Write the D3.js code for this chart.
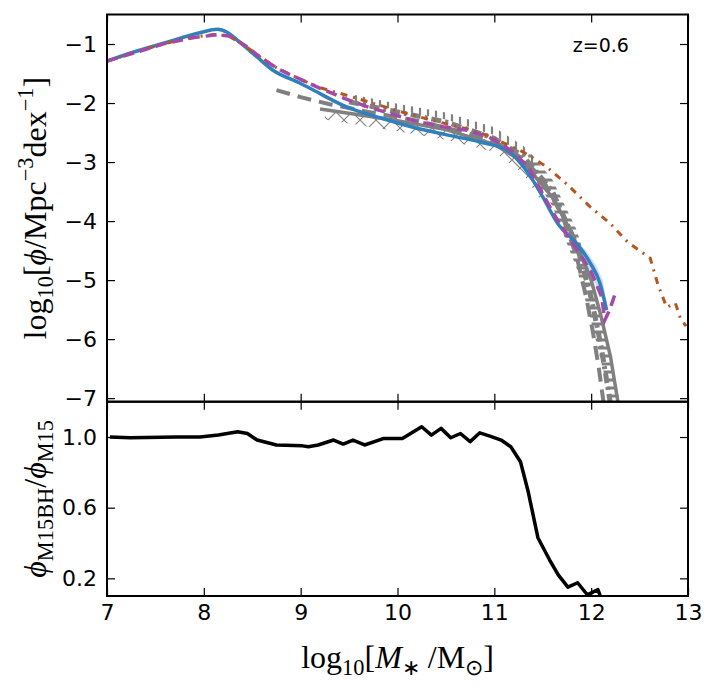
<!DOCTYPE html>
<html><head><meta charset="utf-8">
<script src="https://cdn.jsdelivr.net/npm/d3@7"></script>
<style>body{margin:0;background:#fff}</style>
</head><body>
<svg id="c" width="720" height="688"></svg>
<script>
// ---------- data ----------
const xTicks = [7, 8, 9, 10, 11, 12, 13];
const yMainTicks = [-7, -6, -5, -4, -3, -2, -1];
const yRatioTicks = [0.2, 0.6, 1.0];
const zLabel = "z=0.6";

// M15 (blue solid)
const blueX = [7.0,7.27,7.62,7.96,8.14,8.24,8.37,8.55,8.71,8.99,9.13,9.48,9.82,10.16,10.51,10.85,11.13,11.30,11.44,11.50,11.65,11.88,11.99,12.09,12.16];
const blueY = [-1.29,-1.14,-0.97,-0.81,-0.75,-0.80,-0.97,-1.22,-1.44,-1.66,-1.78,-2.07,-2.25,-2.41,-2.54,-2.66,-2.80,-3.08,-3.42,-3.59,-4.03,-4.44,-4.71,-5.05,-5.51];
const blueBandX = [11.85,11.95,12.05,12.12,12.16];
const blueBandLo = [-4.45,-4.75,-5.1,-5.35,-5.55];
const blueBandHi = [-4.35,-4.5,-4.75,-5.0,-5.4];

// M15BH (purple dashed)
const purpX = [7.0,7.3,7.6,7.9,8.15,8.28,8.45,8.6,8.8,9.0,9.2,9.45,9.7,9.95,10.2,10.47,10.72,10.95,11.17,11.35,11.47,11.6,11.73,11.87,12.0,12.11,12.14,12.19,12.25];
const purpY = [-1.29,-1.14,-0.99,-0.89,-0.84,-0.87,-1.05,-1.25,-1.45,-1.6,-1.75,-1.92,-2.07,-2.19,-2.31,-2.4,-2.46,-2.58,-2.8,-3.08,-3.45,-3.84,-4.19,-4.52,-4.86,-5.29,-5.68,-5.51,-5.22];

// brown dash-dot
const brownX = [7.0,7.3,7.6,7.9,8.1,8.25,8.4,8.55,8.75,9.0,9.2,9.5,9.8,10.1,10.4,10.7,10.9,11.1,11.3,11.54,11.76,11.99,12.19,12.38,12.61,12.69,12.78,12.87,12.92,12.98];
const brownY = [-1.29,-1.13,-0.99,-0.88,-0.84,-0.86,-1.0,-1.18,-1.4,-1.6,-1.74,-1.88,-2.03,-2.18,-2.31,-2.43,-2.53,-2.68,-2.83,-3.08,-3.39,-3.76,-4.03,-4.36,-4.63,-5.08,-5.46,-5.39,-5.64,-5.78];

// observations (gray)
const obsDashX = [8.75,9.0,9.3,9.7,10.2,10.7,11.0,11.3,11.5,11.7,11.85,11.95,12.02,12.08,12.13];
const obsDashY = [-1.78,-1.9,-2.02,-2.15,-2.3,-2.5,-2.65,-2.95,-3.3,-3.9,-4.6,-5.3,-5.9,-6.5,-7.1];
const obsSolidX = [9.2,9.6,10.0,10.5,11.0,11.3,11.6,11.8,12.0,12.1,12.2,12.28];
const obsSolidY = [-2.1,-2.2,-2.3,-2.45,-2.7,-3.0,-3.6,-4.2,-5.0,-5.6,-6.3,-7.1];
const obsDotDashX = [9.5,10.0,10.5,11.0,11.3,11.6,11.85,12.0,12.1,12.2];
const obsDotDashY = [-1.98,-2.15,-2.32,-2.6,-2.9,-3.5,-4.4,-5.3,-6.1,-7.1];
// vertical-tick band (shallow part)
const combAX = [9.55,10.0,10.5,11.0,11.3,11.45];
const combAHi = [-1.86,-2.01,-2.16,-2.41,-2.73,-2.98];
const combALo = [-1.98,-2.12,-2.28,-2.54,-2.88,-3.15];
// horizontal-bar band (steep part)
const combBX = [11.35,11.6,11.85,12.0,12.15,12.3];
const combBHi = [-2.8,-3.3,-4.15,-4.95,-5.85,-7.1];
const combBLo = [-3.1,-3.75,-4.8,-5.7,-6.7,-8.0];
const crossX = [9.25,9.7,10.0,10.5,11.0,11.3,11.5];
const crossHi = [-2.1,-2.22,-2.3,-2.45,-2.65,-2.9,-3.25];
const crossLo = [-2.28,-2.4,-2.48,-2.62,-2.83,-3.2,-3.7];

// ratio panel
const ratioX = [7.03,7.24,7.72,7.96,8.15,8.35,8.45,8.55,8.75,9.02,9.08,9.18,9.34,9.44,9.54,9.66,9.86,10.05,10.25,10.35,10.45,10.55,10.65,10.75,10.85,10.97,11.07,11.17,11.27,11.35,11.45,11.57,11.66,11.76,11.86,11.96,12.07,12.1];
const ratioY = [1.0,0.996,1.0,1.0,1.011,1.03,1.02,0.983,0.955,0.95,0.945,0.955,0.983,0.96,0.983,0.955,0.992,0.992,1.058,1.011,1.049,0.996,1.02,0.974,1.024,1.002,0.983,0.945,0.86,0.69,0.43,0.305,0.22,0.15,0.175,0.107,0.136,0.09];

// ---------- layout ----------
const L = 107, R = 688, T1 = 14.5, B1 = 401.7, B2 = 596;
const svg = d3.select("#c");
const x = d3.scaleLinear().domain([7, 13]).range([L, R]);
const y1 = d3.scaleLinear().domain([-7.06, -0.5]).range([B1, T1]);
const y2 = d3.scaleLinear().domain([0.1, 1.2]).range([B2, B1]);

const defs = svg.append("defs");
defs.append("clipPath").attr("id", "clip1").append("rect").attr("x", L).attr("y", T1).attr("width", R - L).attr("height", B1 - T1);
defs.append("clipPath").attr("id", "clip2").append("rect").attr("x", L).attr("y", B1).attr("width", R - L).attr("height", B2 - B1);
const px = defs.append("pattern").attr("id", "hx").attr("patternUnits", "userSpaceOnUse").attr("width", 16).attr("height", 16);
px.append("path").attr("d", "M0,0L16,16M16,0L0,16").attr("stroke", "#808080").attr("stroke-width", 1.1);
const pv = defs.append("pattern").attr("id", "hv").attr("patternUnits", "userSpaceOnUse").attr("width", 8).attr("height", 8);
pv.append("path").attr("d", "M4,0V8").attr("stroke", "#808080").attr("stroke-width", 2.2);
const ph = defs.append("pattern").attr("id", "hh").attr("patternUnits", "userSpaceOnUse").attr("width", 8).attr("height", 8);
ph.append("path").attr("d", "M0,4H8").attr("stroke", "#808080").attr("stroke-width", 3);

const zip = (a, b) => a.map((v, i) => [v, b[i]]);
const line1 = d3.line().x(d => x(d[0])).y(d => y1(d[1])).curve(d3.curveMonotoneX);
const lineLin = d3.line().x(d => x(d[0])).y(d => y1(d[1]));
const area1 = d3.area().x(d => x(d[0])).y0(d => y1(d[1])).y1(d => y1(d[2]));

const g1 = svg.append("g").attr("clip-path", "url(#clip1)");
// hatched bands
g1.append("path").datum(crossX.map((v, i) => [v, crossLo[i], crossHi[i]])).attr("d", area1).attr("fill", "url(#hx)");
g1.append("path").datum(combAX.map((v, i) => [v, combALo[i], combAHi[i]])).attr("d", area1).attr("fill", "url(#hv)");
g1.append("path").datum(combBX.map((v, i) => [v, combBLo[i], combBHi[i]])).attr("d", area1).attr("fill", "url(#hh)");
// gray lines
g1.append("path").datum(zip(obsSolidX, obsSolidY)).attr("d", lineLin).attr("fill", "none").attr("stroke", "#808080").attr("stroke-width", 3.5);
g1.append("path").datum(zip(obsDotDashX, obsDotDashY)).attr("d", lineLin).attr("fill", "none").attr("stroke", "#808080").attr("stroke-width", 5).attr("stroke-dasharray", "10,4,3,4");
g1.append("path").datum(zip(obsDashX, obsDashY)).attr("d", lineLin).attr("fill", "none").attr("stroke", "#808080").attr("stroke-width", 4).attr("stroke-dasharray", "14,8");
// blue band + line
g1.append("path").datum(blueBandX.map((v, i) => [v, blueBandLo[i], blueBandHi[i]])).attr("d", area1).attr("fill", "#2c7fb8").attr("opacity", 0.25);
g1.append("path").datum(zip(blueX, blueY)).attr("d", line1).attr("fill", "none").attr("stroke", "#2f80bd").attr("stroke-width", 3.5).attr("stroke-linejoin", "round");
g1.append("path").datum(zip(brownX, brownY)).attr("d", lineLin).attr("fill", "none").attr("stroke", "#b5561f").attr("stroke-width", 3).attr("stroke-dasharray", "7,6,2,6");
g1.append("path").datum(zip(purpX, purpY)).attr("d", lineLin).attr("fill", "none").attr("stroke", "#a24aa6").attr("stroke-width", 3.5).attr("stroke-dasharray", "11,6");

// ratio line
const g2 = svg.append("g").attr("clip-path", "url(#clip2)");
g2.append("path").datum(zip(ratioX, ratioY)).attr("d", d3.line().x(d => x(d[0])).y(d => y2(d[1])))
  .attr("fill", "none").attr("stroke", "#000").attr("stroke-width", 3.5).attr("stroke-linejoin", "round");

// ---------- axes ----------
const tickFont = "DejaVu Sans", tickSize = 22;
function styleAxis(g) {
  g.selectAll(".domain").remove();
  g.selectAll("line").attr("stroke", "#000").attr("stroke-width", 1.2);
  g.selectAll("text").attr("font-family", tickFont).attr("font-size", tickSize).attr("fill", "#000");
}
const fmtMinus = v => (v < 0 ? "\u2212" + Math.abs(v) : String(v));
svg.append("g").attr("transform", `translate(${L},0)`).call(d3.axisLeft(y1).tickValues(yMainTicks).tickSize(-8).tickPadding(10).tickFormat(fmtMinus)).call(styleAxis);
svg.append("g").attr("transform", `translate(${R},0)`).call(d3.axisRight(y1).tickValues(yMainTicks).tickSize(-8).tickFormat("")).call(styleAxis);
svg.append("g").attr("transform", `translate(0,${T1})`).call(d3.axisTop(x).tickValues(xTicks).tickSize(-8).tickFormat("")).call(styleAxis);
svg.append("g").attr("transform", `translate(0,${B1})`).call(d3.axisBottom(x).tickValues(xTicks).tickSize(-8).tickFormat("")).call(styleAxis);
svg.append("g").attr("transform", `translate(0,${B1})`).call(d3.axisTop(x).tickValues(xTicks).tickSize(-8).tickFormat("")).call(styleAxis);
svg.append("g").attr("transform", `translate(${L},0)`).call(d3.axisLeft(y2).tickValues(yRatioTicks).tickSize(-8).tickPadding(10).tickFormat(d3.format(".1f"))).call(styleAxis);
svg.append("g").attr("transform", `translate(${R},0)`).call(d3.axisRight(y2).tickValues(yRatioTicks).tickSize(-8).tickFormat("")).call(styleAxis);
svg.append("g").attr("transform", `translate(0,${B2})`).call(d3.axisBottom(x).tickValues(xTicks).tickSize(-8).tickPadding(8).tickFormat(d3.format("d"))).call(styleAxis);

// frames
svg.append("rect").attr("x", L).attr("y", T1).attr("width", R - L).attr("height", B1 - T1).attr("fill", "none").attr("stroke", "#000").attr("stroke-width", 2);
svg.append("rect").attr("x", L).attr("y", B1).attr("width", R - L).attr("height", B2 - B1).attr("fill", "none").attr("stroke", "#000").attr("stroke-width", 2);

// z label
svg.append("text").attr("x", x(12.1)).attr("y", y1(-1.05)).attr("text-anchor", "middle").attr("dominant-baseline", "middle")
  .attr("font-family", "DejaVu Sans").attr("font-size", 19).text(zLabel);

// axis labels (serif math)
const serif = "Liberation Serif", LS = 32;
function mathText(sel, parts) {
  parts.forEach(p => {
    const t = sel.append("tspan").text(p.t);
    if (p.it) t.attr("font-style", "italic");
    if (p.sub) t.attr("font-size", LS * 0.7).attr("dy", p.dy);
    else if (p.sup) t.attr("font-size", LS * 0.7).attr("dy", p.dy);
    else if (p.dy) t.attr("dy", p.dy);
  });
}
const xl = svg.append("text").attr("x", (L + R) / 2).attr("y", 668).attr("text-anchor", "middle").attr("font-family", serif).attr("font-size", LS);
mathText(xl, [{t: "log"}, {t: "10", sub: 1, dy: 7}, {t: "[", dy: -7}, {t: "M", it: 1}, {t: "\u2217", sub: 1, dy: 7}, {t: " /M", dy: -7}, {t: "\u2299", sub: 1, dy: 7}, {t: "]", dy: -7}]);

const yl = svg.append("text").attr("transform", `translate(46,${(T1 + B1) / 2}) rotate(-90)`).attr("text-anchor", "middle").attr("font-family", serif).attr("font-size", LS);
mathText(yl, [{t: "log"}, {t: "10", sub: 1, dy: 7}, {t: "[", dy: -7}, {t: "\u03D5", it: 1}, {t: "/Mpc"}, {t: "\u22123", sup: 1, dy: -13}, {t: "dex", dy: 13}, {t: "\u22121", sup: 1, dy: -13}, {t: "]", dy: 13}]);

const yl2 = svg.append("text").attr("transform", `translate(46,${(B1 + B2) / 2}) rotate(-90)`).attr("text-anchor", "middle").attr("font-family", serif).attr("font-size", LS);
mathText(yl2, [{t: "\u03D5", it: 1}, {t: "M15BH", sub: 1, dy: 7}, {t: "/", dy: -7}, {t: "\u03D5", it: 1}, {t: "M15", sub: 1, dy: 7}]);
</script>
</body></html>
